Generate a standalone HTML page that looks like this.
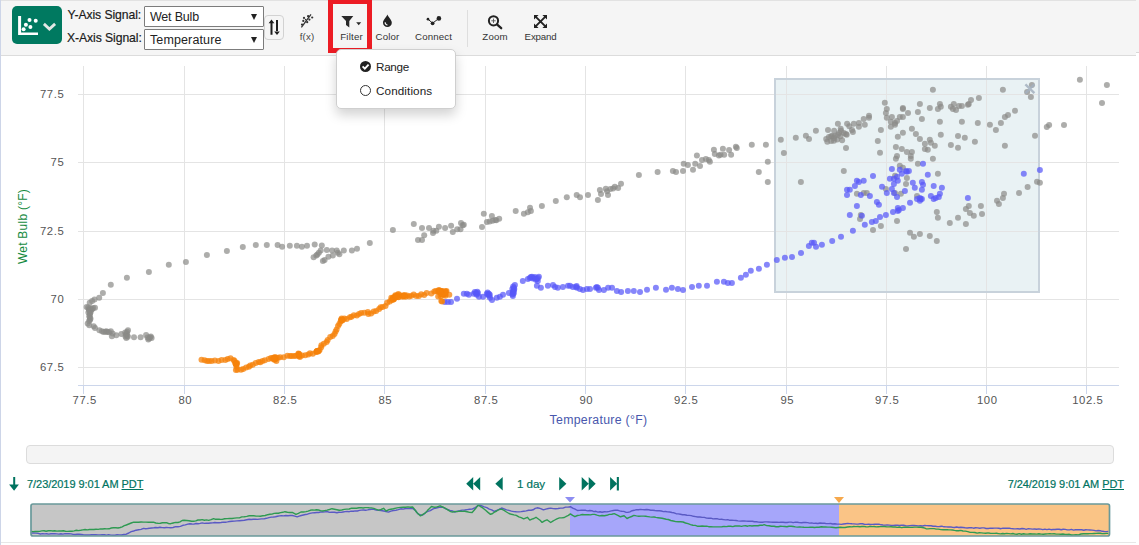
<!DOCTYPE html>
<html>
<head>
<meta charset="utf-8">
<title>Scatter Plot</title>
<style>
html,body{margin:0;padding:0;}
body{width:1139px;height:545px;overflow:hidden;background:#fff;font-family:"Liberation Sans",sans-serif;position:relative;color:#333;}
.abs{position:absolute;}
#panel{position:absolute;left:0;top:0;width:1136px;height:543px;border-bottom:1px solid #e7e7e7;box-sizing:border-box;}
#lb{position:absolute;left:0;top:0;width:1px;height:545px;background:#cdd5e8;}
#toolbar{position:absolute;left:1px;top:0;width:1135px;height:54px;background:#f5f5f5;border-bottom:1px solid #dcdcdc;border-top:1px solid #e2e2e2;box-sizing:content-box;}
#tbr{position:absolute;left:1136px;top:0;width:3px;height:52px;background:#f5f5f5;border-bottom:1px solid #d8d8d8;}
#viewbtn{position:absolute;left:12px;top:6px;width:50px;height:38px;background:#007960;border-radius:5px;}
.lbl{position:absolute;font-size:12.2px;letter-spacing:-0.08px;color:#1a1a1a;white-space:nowrap;line-height:14px;-webkit-text-stroke:0.18px #1a1a1a;}
.sel{position:absolute;left:144px;width:120px;height:21px;box-sizing:border-box;border:1px solid #7c7c7c;background:#fff;border-radius:1px;}
.sel span{position:absolute;left:5px;top:3px;font-size:12.5px;line-height:14px;color:#222;white-space:nowrap;}
.sel i{position:absolute;right:6px;top:6.5px;width:0;height:0;border-left:3px solid transparent;border-right:3px solid transparent;border-top:6px solid #222;}
#swap{position:absolute;left:264px;top:15px;width:20px;height:25px;box-sizing:border-box;border:1px solid #d2d2d2;border-radius:4px;}
.tool{position:absolute;top:31px;font-size:9.7px;letter-spacing:0.15px;line-height:12px;color:#333;white-space:nowrap;text-align:center;transform:translateX(-50%);}
#redbox{position:absolute;left:328px;top:-1px;width:44px;height:54px;box-sizing:border-box;border:5px solid #ec1c24;}
#sep{position:absolute;left:467px;top:10px;width:1px;height:37px;background:#dedede;}
#menu{position:absolute;left:336px;top:49px;width:120px;height:60px;box-sizing:border-box;background:#fff;border:1px solid #cfcfcf;border-radius:5px;box-shadow:0 6px 12px rgba(0,0,0,0.175);}
#menu .it{position:absolute;left:39px;font-size:11.7px;line-height:14px;color:#222;white-space:nowrap;}
.ax{font-size:11.3px;letter-spacing:0.6px;fill:#555;font-family:"Liberation Sans",sans-serif;}
#scroll{position:absolute;left:26px;top:445px;width:1088px;height:19px;box-sizing:border-box;border:1px solid #dcdcdc;border-radius:4px;background:#f4f4f4;}
.date{position:absolute;top:477px;font-size:11px;letter-spacing:-0.05px;line-height:14px;color:#00735f;white-space:nowrap;-webkit-text-stroke:0.2px #00735f;}
.date u{text-decoration:underline;}
</style>
</head>
<body>
<div id="panel"></div><div id="lb"></div>
<div id="toolbar"></div><div id="tbr"></div>

<!-- view button -->
<div id="viewbtn">
<svg class="abs" style="left:0;top:0" width="50" height="38" viewBox="0 0 50 38">
<path d="M6.1 9.9 H9.1 V26.5 H26 V28.9 H6.1 Z" fill="#fff"/>
<circle cx="17.5" cy="14.1" r="2" fill="#fff"/><circle cx="23.7" cy="14.8" r="2" fill="#fff"/>
<circle cx="13.9" cy="18.8" r="2" fill="#fff"/><circle cx="18.4" cy="21.1" r="2" fill="#fff"/>
<circle cx="11.6" cy="23.3" r="2" fill="#fff"/>
<path d="M31.9 17.9 L37.4 23 L43.1 17.9" fill="none" stroke="#e2e8e5" stroke-width="2.8" stroke-linejoin="miter"/>
</svg>
</div>

<div class="lbl" style="left:67.5px;top:8px;">Y-Axis Signal:</div>
<div class="lbl" style="left:67px;top:31px;">X-Axis Signal:</div>
<div class="sel" style="top:6px;"><span style="letter-spacing:-0.2px">Wet Bulb</span><i></i></div>
<div class="sel" style="top:29px;height:21px;"><span style="letter-spacing:0.12px">Temperature</span><i></i></div>
<div id="swap">
<svg class="abs" style="left:0;top:0" width="18" height="23" viewBox="0 0 18 23">
<path d="M3.6 7.2 L6.5 3.6 L9.4 7.2 Z M5.5 6.5 H7.5 V18.8 H5.5 Z" fill="#1c1c1c"/>
<path d="M9.2 15.6 L12 19 L14.8 15.6 Z M11 4.1 H13 V16 H11 Z" fill="#1c1c1c"/>
</svg>
</div>

<!-- tools -->
<div class="tool" style="left:307px;color:#444;">f(x)</div>
<div class="tool" style="left:351.6px;letter-spacing:0.2px;">Filter</div>
<div class="tool" style="left:387.5px;">Color</div>
<div class="tool" style="left:433.6px;">Connect</div>
<div class="tool" style="left:495px;">Zoom</div>
<div class="tool" style="left:540.6px;letter-spacing:-0.15px;">Expand</div>
<div id="sep"></div>

<svg class="abs" style="left:295px;top:10px" width="270" height="24" viewBox="295 10 270 24">
<!-- f(x) icon -->
<g fill="#333" stroke="none">
<path d="M301.4 27.3 L311 14.4" stroke="#333" stroke-width="1.3" fill="none"/>
<circle cx="304" cy="17.9" r="1.1"/><circle cx="308.1" cy="16.2" r="1.1"/><circle cx="312.2" cy="17.5" r="1.1"/><circle cx="303.3" cy="20.9" r="1.1"/><circle cx="307.2" cy="22.2" r="1.1"/><circle cx="309.4" cy="19.6" r="1.1"/><circle cx="302" cy="24.6" r="1.1"/><circle cx="305.6" cy="19.6" r="0.8"/>
</g>
<!-- filter -->
<path d="M341.3 16.1 H353.3 L349.3 21 V27.4 L346 25 V21 Z" fill="#2a2a2a"/>
<path d="M356.2 22.3 H361.2 L358.7 25.2 Z" fill="#2a2a2a"/>
<!-- color drop -->
<path d="M387.4 14.6 C386 17.8 383 20 383 22.7 A4.4 4.3 0 0 0 391.8 22.7 C391.8 20 388.8 17.8 387.4 14.6 Z" fill="#222"/>
<path d="M385.2 22.2 A2.5 2.5 0 0 0 387.5 25" fill="none" stroke="#f5f5f5" stroke-width="1.2"/>
<!-- connect -->
<path d="M428 19.2 L432.6 23.2 L438.9 18.4" fill="none" stroke="#222" stroke-width="1"/>
<circle cx="428" cy="19.2" r="1.35" fill="#222"/><circle cx="432.6" cy="23.3" r="1.9" fill="#222"/><circle cx="438.9" cy="18.4" r="2.3" fill="#222"/>
<!-- zoom -->
<circle cx="493.5" cy="20.8" r="4.6" fill="none" stroke="#222" stroke-width="2"/>
<path d="M497.2 24.6 L501.2 28.2" stroke="#222" stroke-width="2.3" stroke-linecap="round"/>
<path d="M491.3 20.8 H495.7 M493.5 18.6 V23" stroke="#555" stroke-width="0.9"/>
<!-- expand -->
<path d="M534 15 H538.6 L534 19.6 Z M547 15 V19.6 L542.4 15 Z M534 28 V23.4 L538.6 28 Z M547 28 H542.4 L547 23.4 Z" fill="#222"/>
<path d="M535.6 16.6 L545.4 26.4 M545.4 16.6 L535.6 26.4" stroke="#222" stroke-width="1.9" fill="none"/>
</svg>

<div id="redbox"></div>

<!-- chart -->
<svg id="chart" class="abs" style="left:0;top:56px" width="1139" height="380" viewBox="0 56 1139 380">
<rect x="775" y="79" width="264" height="213" fill="#e9f2f4"/>
<g stroke="#e4e4e4" stroke-width="1" shape-rendering="crispEdges">
<path d="M83.5 66 V385 M184.5 66 V385 M284.5 66 V385 M384.5 66 V385 M485.5 66 V385 M585.5 66 V385 M685.5 66 V385 M786.5 66 V385 M886.5 66 V385 M986.5 66 V385 M1086.5 66 V385"/>
<path d="M78 94.5 H1119 M78 162.5 H1119 M78 231.5 H1119 M78 299.5 H1119 M78 367.5 H1119"/>
</g>
<g stroke="#ccd6eb" stroke-width="1" shape-rendering="crispEdges">
<path d="M78 385.5 H1119"/>
<path d="M83.5 385 V394 M184.5 385 V394 M284.5 385 V394 M384.5 385 V394 M485.5 385 V394 M585.5 385 V394 M685.5 385 V394 M786.5 385 V394 M886.5 385 V394 M986.5 385 V394 M1086.5 385 V394"/>
</g>
<g class="ax" text-anchor="end">
<text x="64.3" y="98">77.5</text><text x="64.3" y="166">75</text><text x="64.3" y="235">72.5</text><text x="64.3" y="303">70</text><text x="64.3" y="371">67.5</text>
</g>
<g class="ax" text-anchor="middle">
<text x="84.8" y="404">77.5</text><text x="185.3" y="404">80</text><text x="285.3" y="404">82.5</text><text x="385.3" y="404">85</text><text x="486.3" y="404">87.5</text><text x="586.3" y="404">90</text><text x="686.3" y="404">92.5</text><text x="787.3" y="404">95</text><text x="887.3" y="404">97.5</text><text x="987.3" y="404">100</text><text x="1087.8" y="404">102.5</text>
</g>
<text x="598.5" y="424" text-anchor="middle" style="font-size:12.3px;letter-spacing:0.3px;fill:#4857ad;font-family:'Liberation Sans',sans-serif;">Temperature (°F)</text>
<text transform="translate(27,226.5) rotate(-90)" text-anchor="middle" style="font-size:12px;letter-spacing:0.25px;fill:#148a3e;font-family:'Liberation Sans',sans-serif;">Wet Bulb (°F)</text>
<!-- selection -->
<rect x="775" y="79" width="264" height="213" fill="none" stroke="#c8d2db" stroke-width="2"/>
<g id="pts-gray" fill="#8a8a87" fill-opacity="0.7"><circle cx="277.6" cy="245.0" r="3"/><circle cx="266.8" cy="245.0" r="3"/><circle cx="255.8" cy="245.0" r="3"/><circle cx="242.8" cy="247.0" r="3"/><circle cx="226.9" cy="250.9" r="3"/><circle cx="206.9" cy="254.9" r="3"/><circle cx="185.9" cy="261.9" r="3"/><circle cx="168.8" cy="264.8" r="3"/><circle cx="148.9" cy="271.9" r="3"/><circle cx="126.9" cy="277.8" r="3"/><circle cx="110.8" cy="284.8" r="3"/><circle cx="102.9" cy="293.0" r="3"/><circle cx="99.2" cy="297.8" r="3"/><circle cx="94.5" cy="299.4" r="3"/><circle cx="92.1" cy="300.9" r="3"/><circle cx="89.7" cy="302.7" r="3"/><circle cx="86.6" cy="307.1" r="3"/><circle cx="95.0" cy="307.8" r="3"/><circle cx="92.1" cy="308.9" r="3"/><circle cx="88.8" cy="309.3" r="3"/><circle cx="90.6" cy="311.9" r="3"/><circle cx="89.9" cy="314.8" r="3"/><circle cx="89.9" cy="317.7" r="3"/><circle cx="89.9" cy="319.9" r="3"/><circle cx="87.7" cy="323.6" r="3"/><circle cx="89.3" cy="325.2" r="3"/><circle cx="93.7" cy="326.3" r="3"/><circle cx="95.0" cy="328.0" r="3"/><circle cx="99.4" cy="330.2" r="3"/><circle cx="102.0" cy="331.3" r="3"/><circle cx="105.3" cy="331.8" r="3"/><circle cx="107.5" cy="332.0" r="3"/><circle cx="110.8" cy="331.3" r="3"/><circle cx="112.6" cy="333.5" r="3"/><circle cx="111.9" cy="336.2" r="3"/><circle cx="116.3" cy="335.3" r="3"/><circle cx="121.4" cy="334.0" r="3"/><circle cx="125.2" cy="332.4" r="3"/><circle cx="128.0" cy="330.2" r="3"/><circle cx="126.7" cy="333.5" r="3"/><circle cx="127.4" cy="335.7" r="3"/><circle cx="126.3" cy="337.9" r="3"/><circle cx="134.0" cy="337.3" r="3"/><circle cx="140.6" cy="337.3" r="3"/><circle cx="146.1" cy="335.1" r="3"/><circle cx="150.0" cy="337.3" r="3"/><circle cx="151.6" cy="337.9" r="3"/><circle cx="148.3" cy="339.5" r="3"/><circle cx="282.1" cy="246.8" r="3"/><circle cx="289.8" cy="245.7" r="3"/><circle cx="296.9" cy="245.7" r="3"/><circle cx="301.9" cy="246.8" r="3"/><circle cx="307.0" cy="245.7" r="3"/><circle cx="314.7" cy="244.6" r="3"/><circle cx="321.8" cy="245.5" r="3"/><circle cx="326.8" cy="249.9" r="3"/><circle cx="332.1" cy="250.6" r="3"/><circle cx="336.7" cy="250.6" r="3"/><circle cx="343.8" cy="250.6" r="3"/><circle cx="351.9" cy="250.6" r="3"/><circle cx="357.0" cy="248.8" r="3"/><circle cx="369.8" cy="242.9" r="3"/><circle cx="320.7" cy="250.6" r="3"/><circle cx="318.9" cy="252.8" r="3"/><circle cx="317.4" cy="254.5" r="3"/><circle cx="316.3" cy="255.6" r="3"/><circle cx="313.6" cy="257.2" r="3"/><circle cx="322.9" cy="260.9" r="3"/><circle cx="324.6" cy="260.0" r="3"/><circle cx="328.4" cy="256.7" r="3"/><circle cx="332.8" cy="255.6" r="3"/><circle cx="337.8" cy="252.8" r="3"/><circle cx="339.4" cy="254.3" r="3"/><circle cx="392.9" cy="230.1" r="3"/><circle cx="413.8" cy="224.1" r="3"/><circle cx="422.0" cy="227.9" r="3"/><circle cx="429.0" cy="227.9" r="3"/><circle cx="433.4" cy="230.7" r="3"/><circle cx="433.0" cy="233.0" r="3"/><circle cx="436.3" cy="230.7" r="3"/><circle cx="438.9" cy="226.8" r="3"/><circle cx="445.1" cy="227.9" r="3"/><circle cx="451.1" cy="225.7" r="3"/><circle cx="452.8" cy="231.9" r="3"/><circle cx="457.2" cy="229.2" r="3"/><circle cx="460.5" cy="229.2" r="3"/><circle cx="461.0" cy="223.0" r="3"/><circle cx="463.8" cy="224.8" r="3"/><circle cx="462.7" cy="225.2" r="3"/><circle cx="424.2" cy="235.2" r="3"/><circle cx="418.0" cy="240.0" r="3"/><circle cx="422.0" cy="240.0" r="3"/><circle cx="482.0" cy="226.9" r="3"/><circle cx="483.8" cy="213.7" r="3"/><circle cx="491.9" cy="215.9" r="3"/><circle cx="486.9" cy="221.9" r="3"/><circle cx="489.7" cy="221.4" r="3"/><circle cx="492.6" cy="220.7" r="3"/><circle cx="495.2" cy="219.9" r="3"/><circle cx="496.3" cy="220.3" r="3"/><circle cx="499.2" cy="218.8" r="3"/><circle cx="515.7" cy="211.1" r="3"/><circle cx="523.9" cy="213.7" r="3"/><circle cx="527.8" cy="212.2" r="3"/><circle cx="530.0" cy="207.8" r="3"/><circle cx="530.9" cy="211.1" r="3"/><circle cx="541.9" cy="206.0" r="3"/><circle cx="555.8" cy="200.9" r="3"/><circle cx="566.8" cy="197.2" r="3"/><circle cx="576.7" cy="195.0" r="3"/><circle cx="580.0" cy="197.2" r="3"/><circle cx="588.0" cy="195.0" r="3"/><circle cx="597.9" cy="200.0" r="3"/><circle cx="599.9" cy="189.9" r="3"/><circle cx="601.0" cy="193.9" r="3"/><circle cx="605.8" cy="188.8" r="3"/><circle cx="607.1" cy="191.2" r="3"/><circle cx="608.0" cy="195.0" r="3"/><circle cx="610.4" cy="189.0" r="3"/><circle cx="613.1" cy="188.4" r="3"/><circle cx="614.8" cy="186.8" r="3"/><circle cx="618.1" cy="188.0" r="3"/><circle cx="621.0" cy="183.7" r="3"/><circle cx="638.9" cy="174.9" r="3"/><circle cx="657.6" cy="171.9" r="3"/><circle cx="672.9" cy="171.1" r="3"/><circle cx="676.0" cy="171.9" r="3"/><circle cx="683.0" cy="171.1" r="3"/><circle cx="683.7" cy="163.8" r="3"/><circle cx="687.9" cy="164.9" r="3"/><circle cx="693.0" cy="169.7" r="3"/><circle cx="695.2" cy="163.8" r="3"/><circle cx="696.9" cy="155.6" r="3"/><circle cx="700.0" cy="166.0" r="3"/><circle cx="702.0" cy="160.0" r="3"/><circle cx="705.9" cy="158.9" r="3"/><circle cx="708.8" cy="160.0" r="3"/><circle cx="709.9" cy="161.8" r="3"/><circle cx="713.9" cy="149.7" r="3"/><circle cx="714.8" cy="154.1" r="3"/><circle cx="718.9" cy="155.6" r="3"/><circle cx="720.5" cy="154.8" r="3"/><circle cx="722.9" cy="148.8" r="3"/><circle cx="724.2" cy="154.8" r="3"/><circle cx="729.1" cy="149.9" r="3"/><circle cx="731.1" cy="154.8" r="3"/><circle cx="735.9" cy="146.8" r="3"/><circle cx="736.8" cy="147.9" r="3"/><circle cx="751.8" cy="144.8" r="3"/><circle cx="765.9" cy="144.8" r="3"/><circle cx="767.8" cy="161.8" r="3"/><circle cx="758.8" cy="171.9" r="3"/><circle cx="767.8" cy="181.9" r="3"/><circle cx="780.8" cy="139.8" r="3"/><circle cx="783.9" cy="153.0" r="3"/><circle cx="795.8" cy="137.8" r="3"/><circle cx="805.9" cy="135.8" r="3"/><circle cx="809.0" cy="138.9" r="3"/><circle cx="815.9" cy="130.7" r="3"/><circle cx="800.9" cy="181.9" r="3"/><circle cx="843.8" cy="171.1" r="3"/><circle cx="846.0" cy="147.9" r="3"/><circle cx="828.0" cy="129.9" r="3"/><circle cx="834.1" cy="130.7" r="3"/><circle cx="837.9" cy="123.7" r="3"/><circle cx="840.7" cy="128.8" r="3"/><circle cx="847.1" cy="123.7" r="3"/><circle cx="826.2" cy="138.9" r="3"/><circle cx="827.3" cy="141.8" r="3"/><circle cx="828.9" cy="136.9" r="3"/><circle cx="831.1" cy="136.3" r="3"/><circle cx="833.9" cy="140.7" r="3"/><circle cx="835.0" cy="135.8" r="3"/><circle cx="837.2" cy="139.6" r="3"/><circle cx="839.0" cy="133.0" r="3"/><circle cx="840.5" cy="136.3" r="3"/><circle cx="842.1" cy="140.2" r="3"/><circle cx="843.8" cy="133.0" r="3"/><circle cx="846.7" cy="134.7" r="3"/><circle cx="849.3" cy="126.3" r="3"/><circle cx="853.8" cy="123.7" r="3"/><circle cx="858.9" cy="122.9" r="3"/><circle cx="858.9" cy="126.8" r="3"/><circle cx="863.7" cy="118.9" r="3"/><circle cx="864.8" cy="124.8" r="3"/><circle cx="869.0" cy="115.8" r="3"/><circle cx="869.0" cy="117.8" r="3"/><circle cx="852.0" cy="129.9" r="3"/><circle cx="852.9" cy="131.9" r="3"/><circle cx="845.9" cy="133.9" r="3"/><circle cx="841.0" cy="130.8" r="3"/><circle cx="837.9" cy="134.8" r="3"/><circle cx="832.2" cy="135.9" r="3"/><circle cx="834.0" cy="138.3" r="3"/><circle cx="831.1" cy="140.9" r="3"/><circle cx="880.9" cy="129.9" r="3"/><circle cx="877.8" cy="140.9" r="3"/><circle cx="880.0" cy="152.8" r="3"/><circle cx="884.8" cy="102.8" r="3"/><circle cx="886.8" cy="109.0" r="3"/><circle cx="885.9" cy="113.0" r="3"/><circle cx="886.8" cy="117.8" r="3"/><circle cx="891.9" cy="116.9" r="3"/><circle cx="890.8" cy="121.8" r="3"/><circle cx="895.0" cy="122.9" r="3"/><circle cx="897.0" cy="120.9" r="3"/><circle cx="890.8" cy="126.8" r="3"/><circle cx="895.0" cy="124.8" r="3"/><circle cx="899.8" cy="116.9" r="3"/><circle cx="902.9" cy="116.9" r="3"/><circle cx="902.9" cy="107.9" r="3"/><circle cx="902.9" cy="109.0" r="3"/><circle cx="908.0" cy="113.0" r="3"/><circle cx="917.9" cy="111.9" r="3"/><circle cx="919.9" cy="103.9" r="3"/><circle cx="921.9" cy="118.9" r="3"/><circle cx="929.8" cy="107.9" r="3"/><circle cx="932.9" cy="89.8" r="3"/><circle cx="937.9" cy="109.0" r="3"/><circle cx="939.9" cy="103.9" r="3"/><circle cx="940.8" cy="106.8" r="3"/><circle cx="939.9" cy="121.8" r="3"/><circle cx="950.9" cy="106.8" r="3"/><circle cx="953.8" cy="103.9" r="3"/><circle cx="952.9" cy="109.0" r="3"/><circle cx="956.0" cy="109.9" r="3"/><circle cx="958.9" cy="105.9" r="3"/><circle cx="961.9" cy="105.9" r="3"/><circle cx="967.9" cy="104.8" r="3"/><circle cx="968.8" cy="103.9" r="3"/><circle cx="971.0" cy="100.0" r="3"/><circle cx="978.9" cy="98.0" r="3"/><circle cx="961.9" cy="121.8" r="3"/><circle cx="977.8" cy="122.9" r="3"/><circle cx="989.9" cy="124.8" r="3"/><circle cx="995.9" cy="129.9" r="3"/><circle cx="1000.9" cy="122.9" r="3"/><circle cx="1004.9" cy="116.9" r="3"/><circle cx="1008.0" cy="114.9" r="3"/><circle cx="1015.0" cy="110.7" r="3"/><circle cx="1002.9" cy="89.8" r="3"/><circle cx="1027.1" cy="92.0" r="3"/><circle cx="911.9" cy="128.8" r="3"/><circle cx="902.9" cy="132.8" r="3"/><circle cx="897.8" cy="136.7" r="3"/><circle cx="915.9" cy="133.9" r="3"/><circle cx="919.9" cy="138.9" r="3"/><circle cx="924.9" cy="143.8" r="3"/><circle cx="929.8" cy="139.8" r="3"/><circle cx="930.9" cy="142.7" r="3"/><circle cx="934.8" cy="145.8" r="3"/><circle cx="924.9" cy="148.9" r="3"/><circle cx="927.8" cy="149.7" r="3"/><circle cx="940.8" cy="134.8" r="3"/><circle cx="950.9" cy="144.9" r="3"/><circle cx="958.0" cy="135.9" r="3"/><circle cx="958.0" cy="147.8" r="3"/><circle cx="964.8" cy="137.8" r="3"/><circle cx="974.9" cy="141.8" r="3"/><circle cx="1004.9" cy="145.8" r="3"/><circle cx="895.9" cy="146.9" r="3"/><circle cx="901.8" cy="148.9" r="3"/><circle cx="906.9" cy="151.9" r="3"/><circle cx="911.9" cy="151.9" r="3"/><circle cx="910.8" cy="155.9" r="3"/><circle cx="910.8" cy="158.8" r="3"/><circle cx="897.0" cy="155.9" r="3"/><circle cx="895.9" cy="158.8" r="3"/><circle cx="932.9" cy="158.8" r="3"/><circle cx="917.9" cy="163.8" r="3"/><circle cx="899.8" cy="165.8" r="3"/><circle cx="902.9" cy="167.8" r="3"/><circle cx="937.9" cy="173.7" r="3"/><circle cx="906.0" cy="183.9" r="3"/><circle cx="895.0" cy="175.7" r="3"/><circle cx="906.9" cy="177.9" r="3"/><circle cx="885.9" cy="188.9" r="3"/><circle cx="856.9" cy="193.8" r="3"/><circle cx="863.7" cy="192.9" r="3"/><circle cx="866.8" cy="192.9" r="3"/><circle cx="895.0" cy="192.9" r="3"/><circle cx="900.9" cy="193.8" r="3"/><circle cx="917.0" cy="196.0" r="3"/><circle cx="860.8" cy="214.9" r="3"/><circle cx="860.0" cy="218.9" r="3"/><circle cx="873.0" cy="229.9" r="3"/><circle cx="880.9" cy="225.9" r="3"/><circle cx="897.0" cy="220.9" r="3"/><circle cx="910.0" cy="232.8" r="3"/><circle cx="913.9" cy="236.7" r="3"/><circle cx="919.9" cy="233.9" r="3"/><circle cx="929.8" cy="235.9" r="3"/><circle cx="936.8" cy="240.9" r="3"/><circle cx="906.0" cy="248.9" r="3"/><circle cx="936.8" cy="211.9" r="3"/><circle cx="937.9" cy="217.8" r="3"/><circle cx="949.8" cy="222.9" r="3"/><circle cx="958.0" cy="217.8" r="3"/><circle cx="965.9" cy="224.0" r="3"/><circle cx="965.9" cy="209.0" r="3"/><circle cx="968.8" cy="205.9" r="3"/><circle cx="969.9" cy="213.0" r="3"/><circle cx="973.8" cy="215.8" r="3"/><circle cx="980.9" cy="205.9" r="3"/><circle cx="982.0" cy="214.1" r="3"/><circle cx="997.0" cy="200.8" r="3"/><circle cx="998.9" cy="203.9" r="3"/><circle cx="1002.9" cy="198.0" r="3"/><circle cx="1004.0" cy="193.8" r="3"/><circle cx="1019.0" cy="192.9" r="3"/><circle cx="1027.6" cy="187.0" r="3"/><circle cx="1079.9" cy="79.8" r="3"/><circle cx="1106.9" cy="84.9" r="3"/><circle cx="1102.0" cy="102.9" r="3"/><circle cx="1064.0" cy="125.0" r="3"/><circle cx="1049.1" cy="125.0" r="3"/><circle cx="1046.8" cy="127.0" r="3"/><circle cx="1035.0" cy="135.8" r="3"/><circle cx="1030.9" cy="97.0" r="3"/><circle cx="1031.9" cy="84.9" r="3"/><circle cx="1039.9" cy="182.8" r="3"/><circle cx="1037.0" cy="181.8" r="3"/><circle cx="88.2" cy="307.5" r="3"/><circle cx="90.3" cy="308.2" r="3"/><circle cx="91.5" cy="309.8" r="3"/><circle cx="89.3" cy="310.8" r="3"/><circle cx="90.1" cy="313.2" r="3"/><circle cx="89.2" cy="316.3" r="3"/><circle cx="90.5" cy="318.8" r="3"/><circle cx="89.1" cy="321.0" r="3"/><circle cx="88.4" cy="312.5" r="3"/><circle cx="93.2" cy="308.0" r="3"/><circle cx="127.1" cy="331.8" r="3"/><circle cx="126.0" cy="335.0" r="3"/><circle cx="127.8" cy="336.8" r="3"/><circle cx="125.5" cy="336.6" r="3"/><circle cx="149.2" cy="338.4" r="3"/><circle cx="150.8" cy="336.4" r="3"/><circle cx="147.6" cy="337.6" r="3"/><circle cx="106.4" cy="331.2" r="3"/><circle cx="109.0" cy="332.3" r="3"/><circle cx="103.6" cy="331.9" r="3"/></g>
<g id="pts-blue" fill="#5858f8" fill-opacity="0.72"><circle cx="923.0" cy="163.8" r="3"/><circle cx="891.9" cy="168.9" r="3"/><circle cx="899.8" cy="169.8" r="3"/><circle cx="906.0" cy="170.9" r="3"/><circle cx="908.9" cy="170.9" r="3"/><circle cx="906.9" cy="171.8" r="3"/><circle cx="901.8" cy="173.7" r="3"/><circle cx="927.8" cy="174.8" r="3"/><circle cx="873.0" cy="175.9" r="3"/><circle cx="889.9" cy="178.8" r="3"/><circle cx="893.9" cy="178.8" r="3"/><circle cx="897.0" cy="176.8" r="3"/><circle cx="897.8" cy="180.8" r="3"/><circle cx="856.9" cy="180.8" r="3"/><circle cx="858.9" cy="181.9" r="3"/><circle cx="863.7" cy="180.8" r="3"/><circle cx="854.9" cy="185.9" r="3"/><circle cx="893.9" cy="183.9" r="3"/><circle cx="882.0" cy="186.7" r="3"/><circle cx="912.8" cy="182.8" r="3"/><circle cx="921.9" cy="181.9" r="3"/><circle cx="923.0" cy="184.8" r="3"/><circle cx="914.8" cy="187.8" r="3"/><circle cx="933.7" cy="185.9" r="3"/><circle cx="941.9" cy="187.8" r="3"/><circle cx="1023.8" cy="173.7" r="3"/><circle cx="1039.9" cy="169.9" r="3"/><circle cx="847.0" cy="189.8" r="3"/><circle cx="849.8" cy="189.8" r="3"/><circle cx="847.0" cy="194.9" r="3"/><circle cx="860.8" cy="194.9" r="3"/><circle cx="869.9" cy="196.0" r="3"/><circle cx="856.9" cy="205.9" r="3"/><circle cx="876.9" cy="201.9" r="3"/><circle cx="878.9" cy="204.8" r="3"/><circle cx="849.8" cy="214.9" r="3"/><circle cx="861.9" cy="215.8" r="3"/><circle cx="864.8" cy="224.8" r="3"/><circle cx="871.9" cy="222.0" r="3"/><circle cx="875.8" cy="220.9" r="3"/><circle cx="880.0" cy="216.9" r="3"/><circle cx="885.9" cy="214.9" r="3"/><circle cx="893.0" cy="211.9" r="3"/><circle cx="897.8" cy="207.9" r="3"/><circle cx="898.9" cy="209.9" r="3"/><circle cx="897.8" cy="211.0" r="3"/><circle cx="902.9" cy="207.9" r="3"/><circle cx="910.0" cy="202.8" r="3"/><circle cx="852.9" cy="230.8" r="3"/><circle cx="841.0" cy="236.7" r="3"/><circle cx="832.2" cy="240.9" r="3"/><circle cx="886.8" cy="192.9" r="3"/><circle cx="891.9" cy="188.9" r="3"/><circle cx="893.9" cy="192.9" r="3"/><circle cx="897.0" cy="196.9" r="3"/><circle cx="904.9" cy="190.9" r="3"/><circle cx="921.9" cy="189.8" r="3"/><circle cx="939.9" cy="193.8" r="3"/><circle cx="938.8" cy="196.9" r="3"/><circle cx="935.7" cy="198.0" r="3"/><circle cx="933.7" cy="198.9" r="3"/><circle cx="930.9" cy="196.0" r="3"/><circle cx="919.9" cy="198.0" r="3"/><circle cx="920.7" cy="198.9" r="3"/><circle cx="921.9" cy="198.9" r="3"/><circle cx="919.9" cy="200.8" r="3"/><circle cx="917.0" cy="198.9" r="3"/><circle cx="967.9" cy="198.0" r="3"/><circle cx="640.0" cy="291.9" r="3"/><circle cx="647.0" cy="289.7" r="3"/><circle cx="655.9" cy="287.8" r="3"/><circle cx="666.0" cy="289.7" r="3"/><circle cx="671.9" cy="287.8" r="3"/><circle cx="677.9" cy="288.9" r="3"/><circle cx="683.0" cy="290.0" r="3"/><circle cx="692.0" cy="286.9" r="3"/><circle cx="698.8" cy="285.8" r="3"/><circle cx="707.0" cy="285.8" r="3"/><circle cx="716.9" cy="281.8" r="3"/><circle cx="723.9" cy="281.8" r="3"/><circle cx="727.9" cy="282.9" r="3"/><circle cx="731.9" cy="282.9" r="3"/><circle cx="740.9" cy="277.8" r="3"/><circle cx="745.9" cy="274.8" r="3"/><circle cx="750.8" cy="270.8" r="3"/><circle cx="758.9" cy="268.8" r="3"/><circle cx="766.9" cy="264.8" r="3"/><circle cx="776.8" cy="260.0" r="3"/><circle cx="784.9" cy="257.8" r="3"/><circle cx="792.0" cy="256.9" r="3"/><circle cx="801.0" cy="253.0" r="3"/><circle cx="808.9" cy="245.9" r="3"/><circle cx="811.8" cy="242.8" r="3"/><circle cx="814.0" cy="242.8" r="3"/><circle cx="816.0" cy="246.8" r="3"/><circle cx="821.9" cy="244.8" r="3"/><circle cx="444.8" cy="301.9" r="3"/><circle cx="447.9" cy="301.9" r="3"/><circle cx="451.0" cy="301.9" r="3"/><circle cx="457.0" cy="298.8" r="3"/><circle cx="463.8" cy="293.7" r="3"/><circle cx="466.9" cy="293.7" r="3"/><circle cx="468.9" cy="294.8" r="3"/><circle cx="473.7" cy="293.7" r="3"/><circle cx="475.9" cy="292.9" r="3"/><circle cx="477.9" cy="292.9" r="3"/><circle cx="476.8" cy="294.8" r="3"/><circle cx="479.0" cy="296.8" r="3"/><circle cx="483.0" cy="296.8" r="3"/><circle cx="486.9" cy="293.7" r="3"/><circle cx="488.9" cy="293.7" r="3"/><circle cx="488.9" cy="295.7" r="3"/><circle cx="490.0" cy="297.7" r="3"/><circle cx="492.0" cy="299.9" r="3"/><circle cx="496.8" cy="297.7" r="3"/><circle cx="499.9" cy="296.8" r="3"/><circle cx="503.0" cy="294.8" r="3"/><circle cx="508.9" cy="292.9" r="3"/><circle cx="512.9" cy="295.9" r="3"/><circle cx="512.9" cy="293.7" r="3"/><circle cx="512.9" cy="292.0" r="3"/><circle cx="513.8" cy="290.0" r="3"/><circle cx="513.8" cy="287.8" r="3"/><circle cx="514.9" cy="284.9" r="3"/><circle cx="522.8" cy="281.0" r="3"/><circle cx="527.9" cy="279.0" r="3"/><circle cx="529.9" cy="277.9" r="3"/><circle cx="531.9" cy="276.8" r="3"/><circle cx="533.8" cy="277.9" r="3"/><circle cx="536.9" cy="279.0" r="3"/><circle cx="538.9" cy="276.8" r="3"/><circle cx="537.8" cy="281.0" r="3"/><circle cx="536.9" cy="285.8" r="3"/><circle cx="540.9" cy="287.8" r="3"/><circle cx="547.9" cy="285.8" r="3"/><circle cx="553.0" cy="284.9" r="3"/><circle cx="555.0" cy="286.9" r="3"/><circle cx="557.8" cy="287.8" r="3"/><circle cx="562.9" cy="286.9" r="3"/><circle cx="568.0" cy="285.8" r="3"/><circle cx="570.0" cy="285.8" r="3"/><circle cx="572.8" cy="286.9" r="3"/><circle cx="575.9" cy="286.9" r="3"/><circle cx="577.0" cy="287.8" r="3"/><circle cx="579.9" cy="288.9" r="3"/><circle cx="583.0" cy="290.0" r="3"/><circle cx="586.9" cy="288.9" r="3"/><circle cx="590.0" cy="288.9" r="3"/><circle cx="595.9" cy="287.8" r="3"/><circle cx="597.9" cy="287.8" r="3"/><circle cx="599.0" cy="290.0" r="3"/><circle cx="603.9" cy="290.0" r="3"/><circle cx="608.1" cy="287.8" r="3"/><circle cx="612.0" cy="287.8" r="3"/><circle cx="616.9" cy="290.9" r="3"/><circle cx="621.1" cy="292.0" r="3"/><circle cx="627.9" cy="290.9" r="3"/><circle cx="633.8" cy="290.9" r="3"/><circle cx="512.3" cy="289.0" r="3"/><circle cx="513.4" cy="291.1" r="3"/><circle cx="512.4" cy="294.6" r="3"/><circle cx="513.9" cy="293.0" r="3"/><circle cx="514.3" cy="288.9" r="3"/><circle cx="513.2" cy="286.5" r="3"/><circle cx="476.6" cy="293.8" r="3"/><circle cx="477.3" cy="291.8" r="3"/><circle cx="474.8" cy="292.0" r="3"/><circle cx="488.0" cy="294.6" r="3"/><circle cx="487.6" cy="292.5" r="3"/><circle cx="489.8" cy="294.7" r="3"/><circle cx="530.9" cy="276.9" r="3"/><circle cx="532.8" cy="278.6" r="3"/><circle cx="534.9" cy="277.0" r="3"/><circle cx="537.9" cy="278.0" r="3"/><circle cx="535.8" cy="279.8" r="3"/><circle cx="576.6" cy="285.9" r="3"/><circle cx="596.8" cy="286.9" r="3"/></g>
<g id="pts-orange" fill="#f5820a" fill-opacity="0.75"><circle cx="201.5" cy="359.7" r="3"/><circle cx="204.6" cy="360.2" r="3"/><circle cx="207.0" cy="361.0" r="3"/><circle cx="209.1" cy="361.1" r="3"/><circle cx="211.6" cy="361.0" r="3"/><circle cx="214.9" cy="360.6" r="3"/><circle cx="218.5" cy="361.1" r="3"/><circle cx="221.6" cy="360.0" r="3"/><circle cx="225.3" cy="360.1" r="3"/><circle cx="227.7" cy="359.1" r="3"/><circle cx="230.5" cy="358.2" r="3"/><circle cx="233.6" cy="360.1" r="3"/><circle cx="234.6" cy="360.9" r="3"/><circle cx="237.1" cy="363.1" r="3"/><circle cx="236.3" cy="364.9" r="3"/><circle cx="236.5" cy="366.8" r="3"/><circle cx="235.9" cy="370.0" r="3"/><circle cx="237.5" cy="369.8" r="3"/><circle cx="241.0" cy="369.8" r="3"/><circle cx="243.2" cy="368.9" r="3"/><circle cx="246.1" cy="367.4" r="3"/><circle cx="248.9" cy="366.8" r="3"/><circle cx="250.2" cy="365.4" r="3"/><circle cx="252.8" cy="364.7" r="3"/><circle cx="255.7" cy="363.0" r="3"/><circle cx="258.7" cy="362.0" r="3"/><circle cx="260.4" cy="362.3" r="3"/><circle cx="262.5" cy="360.9" r="3"/><circle cx="264.9" cy="360.2" r="3"/><circle cx="268.6" cy="359.0" r="3"/><circle cx="271.0" cy="358.0" r="3"/><circle cx="272.9" cy="357.9" r="3"/><circle cx="274.9" cy="357.0" r="3"/><circle cx="276.4" cy="361.1" r="3"/><circle cx="278.0" cy="357.8" r="3"/><circle cx="280.1" cy="357.3" r="3"/><circle cx="283.8" cy="357.2" r="3"/><circle cx="287.4" cy="355.7" r="3"/><circle cx="290.0" cy="355.9" r="3"/><circle cx="291.6" cy="356.1" r="3"/><circle cx="294.1" cy="356.1" r="3"/><circle cx="296.1" cy="355.7" r="3"/><circle cx="298.4" cy="353.4" r="3"/><circle cx="299.9" cy="357.0" r="3"/><circle cx="302.0" cy="355.5" r="3"/><circle cx="305.3" cy="355.3" r="3"/><circle cx="308.3" cy="354.4" r="3"/><circle cx="310.0" cy="353.3" r="3"/><circle cx="312.8" cy="353.7" r="3"/><circle cx="316.3" cy="352.1" r="3"/><circle cx="317.3" cy="350.9" r="3"/><circle cx="319.6" cy="350.0" r="3"/><circle cx="321.2" cy="347.3" r="3"/><circle cx="321.4" cy="345.3" r="3"/><circle cx="323.8" cy="343.7" r="3"/><circle cx="326.6" cy="342.0" r="3"/><circle cx="327.7" cy="340.1" r="3"/><circle cx="330.2" cy="337.0" r="3"/><circle cx="332.7" cy="335.9" r="3"/><circle cx="334.5" cy="334.1" r="3"/><circle cx="335.6" cy="331.6" r="3"/><circle cx="336.6" cy="329.5" r="3"/><circle cx="338.0" cy="326.0" r="3"/><circle cx="339.3" cy="324.0" r="3"/><circle cx="340.6" cy="321.6" r="3"/><circle cx="341.6" cy="318.6" r="3"/><circle cx="344.3" cy="318.6" r="3"/><circle cx="346.7" cy="319.1" r="3"/><circle cx="349.9" cy="317.2" r="3"/><circle cx="351.5" cy="316.8" r="3"/><circle cx="353.9" cy="315.2" r="3"/><circle cx="356.9" cy="315.4" r="3"/><circle cx="359.0" cy="314.1" r="3"/><circle cx="361.1" cy="313.1" r="3"/><circle cx="364.3" cy="312.8" r="3"/><circle cx="367.8" cy="312.1" r="3"/><circle cx="368.4" cy="314.1" r="3"/><circle cx="371.1" cy="313.5" r="3"/><circle cx="373.7" cy="311.4" r="3"/><circle cx="376.1" cy="311.0" r="3"/><circle cx="379.1" cy="309.1" r="3"/><circle cx="380.6" cy="307.2" r="3"/><circle cx="382.7" cy="306.9" r="3"/><circle cx="385.5" cy="305.9" r="3"/><circle cx="387.1" cy="302.7" r="3"/><circle cx="389.8" cy="301.6" r="3"/><circle cx="391.5" cy="299.9" r="3"/><circle cx="393.1" cy="298.5" r="3"/><circle cx="395.5" cy="296.4" r="3"/><circle cx="398.4" cy="294.0" r="3"/><circle cx="400.0" cy="295.2" r="3"/><circle cx="402.6" cy="296.7" r="3"/><circle cx="407.0" cy="295.5" r="3"/><circle cx="409.2" cy="296.5" r="3"/><circle cx="411.4" cy="295.7" r="3"/><circle cx="413.7" cy="294.4" r="3"/><circle cx="416.3" cy="295.9" r="3"/><circle cx="418.9" cy="295.9" r="3"/><circle cx="421.2" cy="294.2" r="3"/><circle cx="424.2" cy="294.9" r="3"/><circle cx="426.6" cy="292.9" r="3"/><circle cx="431.3" cy="293.4" r="3"/><circle cx="434.3" cy="291.5" r="3"/><circle cx="435.8" cy="291.1" r="3"/><circle cx="438.5" cy="290.3" r="3"/><circle cx="441.3" cy="291.8" r="3"/><circle cx="442.5" cy="293.3" r="3"/><circle cx="445.3" cy="291.5" r="3"/><circle cx="446.5" cy="290.9" r="3"/><circle cx="449.3" cy="294.7" r="3"/><circle cx="445.4" cy="295.8" r="3"/><circle cx="443.5" cy="295.1" r="3"/><circle cx="440.5" cy="296.1" r="3"/><circle cx="438.2" cy="296.5" r="3"/><circle cx="441.3" cy="301.0" r="3"/><circle cx="442.1" cy="301.4" r="3"/><circle cx="275.1" cy="359.6" r="3"/><circle cx="274.8" cy="359.4" r="3"/><circle cx="276.2" cy="357.8" r="3"/><circle cx="274.1" cy="358.0" r="3"/><circle cx="274.1" cy="358.7" r="3"/><circle cx="274.1" cy="358.3" r="3"/><circle cx="273.7" cy="359.5" r="3"/><circle cx="274.5" cy="358.4" r="3"/><circle cx="299.3" cy="355.8" r="3"/><circle cx="298.8" cy="355.9" r="3"/><circle cx="299.0" cy="355.1" r="3"/><circle cx="299.1" cy="354.0" r="3"/><circle cx="298.8" cy="354.3" r="3"/><circle cx="316.4" cy="351.7" r="3"/><circle cx="317.0" cy="350.9" r="3"/><circle cx="318.7" cy="351.1" r="3"/><circle cx="317.4" cy="351.0" r="3"/><circle cx="318.2" cy="351.6" r="3"/><circle cx="341.1" cy="320.1" r="3"/><circle cx="341.4" cy="319.6" r="3"/><circle cx="342.7" cy="320.0" r="3"/><circle cx="342.1" cy="320.4" r="3"/><circle cx="394.8" cy="297.8" r="3"/><circle cx="393.5" cy="298.0" r="3"/><circle cx="393.1" cy="298.6" r="3"/><circle cx="392.8" cy="298.1" r="3"/><circle cx="392.9" cy="299.4" r="3"/><circle cx="393.9" cy="299.2" r="3"/><circle cx="394.9" cy="297.3" r="3"/><circle cx="393.3" cy="299.4" r="3"/><circle cx="394.5" cy="296.9" r="3"/><circle cx="391.3" cy="297.8" r="3"/><circle cx="395.3" cy="295.3" r="3"/><circle cx="395.3" cy="296.5" r="3"/><circle cx="398.1" cy="297.1" r="3"/><circle cx="395.6" cy="296.6" r="3"/><circle cx="397.6" cy="295.0" r="3"/><circle cx="398.5" cy="297.3" r="3"/><circle cx="395.9" cy="297.3" r="3"/><circle cx="396.6" cy="296.0" r="3"/><circle cx="405.5" cy="296.7" r="3"/><circle cx="403.0" cy="295.9" r="3"/><circle cx="404.0" cy="295.7" r="3"/><circle cx="403.1" cy="295.6" r="3"/><circle cx="404.7" cy="295.0" r="3"/><circle cx="404.2" cy="295.9" r="3"/><circle cx="441.5" cy="291.9" r="3"/><circle cx="444.6" cy="292.5" r="3"/><circle cx="441.7" cy="294.3" r="3"/><circle cx="445.5" cy="294.2" r="3"/><circle cx="441.9" cy="291.6" r="3"/><circle cx="441.6" cy="293.5" r="3"/><circle cx="442.8" cy="291.2" r="3"/><circle cx="443.6" cy="294.0" r="3"/><circle cx="445.7" cy="291.6" r="3"/><circle cx="442.2" cy="294.0" r="3"/><circle cx="444.4" cy="293.2" r="3"/><circle cx="441.9" cy="290.9" r="3"/><circle cx="445.0" cy="292.2" r="3"/><circle cx="441.8" cy="294.1" r="3"/><circle cx="440.4" cy="291.6" r="3"/><circle cx="438.8" cy="291.7" r="3"/><circle cx="438.7" cy="291.8" r="3"/><circle cx="439.9" cy="290.7" r="3"/><circle cx="440.2" cy="291.9" r="3"/><circle cx="439.3" cy="290.2" r="3"/><circle cx="236.6" cy="363.6" r="3"/><circle cx="235.6" cy="363.4" r="3"/><circle cx="235.4" cy="363.5" r="3"/><circle cx="236.0" cy="363.7" r="3"/></g>
<path d="M1025.4 84.3 L1034.4 93.1 M1034.4 84.3 L1025.4 93.1" stroke="#a3b0be" stroke-opacity="0.85" stroke-width="2.4" fill="none"/>
</svg>

<!-- dropdown menu -->
<div id="menu">
<svg class="abs" style="left:22px;top:10px" width="14" height="38" viewBox="0 0 14 38">
<circle cx="6.5" cy="6.5" r="5.5" fill="#222"/>
<path d="M3.6 6.4 L5.8 8.6 L9.6 4.6" fill="none" stroke="#fff" stroke-width="1.9"/>
<circle cx="6.5" cy="30.5" r="5" fill="#fff" stroke="#333" stroke-width="1"/>
</svg>
<div class="it" style="top:10px;letter-spacing:-0.3px;">Range</div>
<div class="it" style="top:34px;letter-spacing:0.1px;">Conditions</div>
</div>

<!-- bottom -->
<div id="scroll"></div>
<svg class="abs" style="left:8px;top:476px" width="12" height="16" viewBox="0 0 12 16">
<path d="M5.2 0.9 H7.2 V8.6 H10.9 L6.1 14.8 L1.1 8.6 H5.2 Z" fill="#00735f"/>
</svg>
<div class="date" style="left:27px;">7/23/2019 9:01 AM <u>PDT</u></div>
<div class="date" style="right:15px;">7/24/2019 9:01 AM <u>PDT</u></div>
<svg class="abs" style="left:460px;top:474px" width="170" height="32" viewBox="460 474 170 32">
<g fill="#00735f">
<path d="M466.2 483.7 L473.2 477 V490.4 Z M473.2 483.7 L480.2 477 V490.4 Z"/>
<path d="M495.3 483.7 L502.7 477 V490.4 Z"/>
<path d="M566.4 483.7 L559.2 477 V490.4 Z"/>
<path d="M595.7 483.7 L588.7 477 V490.4 Z M588.7 483.7 L581.7 477 V490.4 Z"/>
<path d="M617.2 483.7 L610.1 477 V490.4 Z M616.8 477 H618.9 V490.4 H616.8 Z"/>
</g>
<path d="M565 497 H575 L570 502.5 Z" fill="#8d8df2"/>
</svg>
<div class="date" style="left:517px;font-size:11.6px;">1 day</div>
<svg class="abs" style="left:830px;top:494px" width="20" height="12" viewBox="830 494 20 12"><path d="M834 497 H844 L839 503 Z" fill="#f6a84c"/></svg>

<!-- mini chart -->
<svg id="mini" class="abs" style="left:28px;top:501px" width="1085" height="38" viewBox="28 501 1085 38">
<rect x="31" y="504" width="539" height="32" fill="#c6c6c6"/>
<rect x="570" y="504" width="269" height="32" fill="#a6a6fa"/>
<rect x="839" y="504" width="270" height="32" fill="#fac486"/>
<g id="minilines" fill="none" stroke-width="1.4" stroke-linejoin="round"><polyline stroke="#5a5ac4" points="31.0,533.1 33.3,533.0 35.7,533.1 38.0,533.4 40.4,534.0 42.7,533.6 44.7,533.9 46.7,533.7 48.8,534.1 50.8,533.8 52.8,533.8 54.8,533.8 56.8,533.9 58.8,534.1 60.9,533.8 62.9,534.1 64.9,533.6 67.0,533.8 69.0,533.8 71.1,533.9 73.1,534.4 75.2,534.5 77.2,534.2 79.2,534.3 81.3,534.5 83.3,534.8 85.4,535.0 87.5,535.0 89.5,535.0 91.6,534.7 93.8,534.8 95.9,534.7 98.0,534.9 100.1,534.9 102.3,534.7 104.4,534.7 106.5,535.1 108.6,534.6 110.8,535.1 112.9,535.2 115.0,535.2 117.1,534.8 119.3,534.9 121.4,535.0 123.8,534.5 126.3,534.2 128.8,533.0 131.2,531.6 133.7,531.0 136.1,530.2 138.6,529.8 141.1,529.4 143.5,528.4 145.6,528.7 147.6,528.5 149.7,528.2 151.7,528.0 153.8,527.8 155.8,527.5 157.9,527.7 160.0,527.3 162.1,527.6 164.3,527.7 166.4,527.5 168.5,527.6 170.6,527.8 173.1,527.5 175.5,526.6 177.9,526.8 180.4,526.4 182.9,525.3 185.3,524.9 187.8,524.1 189.9,523.8 191.9,524.0 193.9,524.1 196.0,523.5 198.1,523.7 200.1,523.4 202.2,522.9 204.3,523.4 206.4,523.1 208.5,523.2 210.6,523.0 212.7,522.9 214.8,522.5 216.9,522.7 219.0,522.7 221.1,522.5 223.3,522.1 225.4,522.2 227.5,521.9 229.6,521.5 232.1,521.3 234.5,521.1 236.9,520.9 239.4,520.7 241.8,520.5 244.3,520.3 246.8,519.8 249.2,519.3 251.2,519.5 253.3,519.2 255.3,519.2 257.4,519.4 259.4,519.1 261.5,518.9 264.0,518.9 266.4,518.3 268.9,517.6 271.4,517.1 273.4,517.0 275.5,516.8 277.5,516.3 279.5,515.9 281.6,515.7 283.6,515.9 285.8,515.5 288.0,515.7 290.1,515.5 292.3,515.5 294.8,516.1 297.2,516.8 299.2,516.1 301.3,515.5 303.3,515.0 305.4,514.5 307.4,514.2 309.8,513.4 312.3,512.9 314.7,512.7 316.8,512.5 318.8,512.5 320.9,511.9 322.9,512.0 324.9,511.9 327.0,511.5 329.5,512.4 331.9,512.1 334.4,512.2 336.9,512.7 338.9,512.3 341.0,512.4 343.0,512.0 345.1,511.6 347.1,511.4 349.2,511.7 351.2,511.1 353.3,511.3 355.4,510.9 357.4,511.0 359.4,510.4 361.5,510.1 363.5,510.0 365.6,510.2 367.6,509.9 369.6,509.5 371.7,509.2 373.7,509.4 376.2,510.1 378.6,510.4 381.1,510.5 383.6,511.0 386.0,511.5 388.5,512.1 390.9,511.2 393.4,510.5 395.9,510.2 398.3,509.6 400.8,508.8 403.2,509.1 405.7,508.5 408.2,508.5 410.6,508.6 413.1,508.6 415.6,510.8 418.0,513.9 421.7,515.3 423.7,514.3 425.8,512.4 427.8,511.4 430.3,510.7 432.7,509.1 435.2,508.2 437.2,507.7 439.3,507.4 441.3,507.1 443.4,507.4 445.4,508.6 447.5,509.5 450.0,510.4 452.4,511.0 454.9,512.1 457.3,511.2 459.8,510.7 462.2,510.1 464.7,510.0 467.2,509.6 469.6,509.3 472.1,509.1 474.5,508.0 477.0,506.4 479.4,505.0 481.9,505.8 484.3,506.8 486.8,507.6 489.3,509.1 491.7,509.8 494.2,511.3 496.7,510.5 499.1,509.4 501.6,508.0 504.1,508.8 506.5,509.9 509.0,510.4 511.4,511.1 513.9,511.6 516.3,511.8 518.8,511.9 521.2,511.6 523.7,511.2 526.2,510.9 528.6,510.3 531.1,510.2 533.1,509.8 535.2,508.4 537.2,507.8 539.3,508.2 541.3,508.8 543.4,509.9 545.8,509.1 548.3,508.5 550.7,508.1 553.2,508.6 555.6,508.7 558.1,508.5 560.6,508.1 563.0,508.1 565.5,507.1 568.0,507.1 570.4,506.7 572.7,508.2 575.1,509.2 577.4,510.5 579.5,510.4 581.5,510.2 583.5,510.3 585.6,510.3 587.7,510.9 589.7,510.5 591.8,510.7 593.8,511.6 595.9,511.3 597.9,512.1 600.0,511.8 602.0,512.3 604.4,511.8 606.9,511.9 609.3,511.4 611.4,510.9 613.4,510.5 615.5,510.1 617.5,510.2 619.6,510.9 621.6,511.3 623.7,511.4 625.7,512.2 627.8,512.4 629.9,511.8 632.1,510.7 634.2,510.3 636.4,509.6 638.5,509.8 640.5,509.4 642.5,509.6 644.6,509.7 646.7,509.5 648.7,509.8 650.8,510.2 652.9,510.2 655.0,510.5 657.1,510.7 659.2,510.7 661.3,511.0 663.4,511.6 665.5,511.5 667.6,511.9 669.7,512.0 671.9,512.5 674.0,512.8 676.1,513.7 678.2,513.9 680.4,514.3 682.6,514.7 684.7,514.8 686.9,515.3 689.1,515.4 691.3,515.6 693.4,516.3 695.6,516.6 697.8,517.0 700.0,517.0 702.2,517.4 704.4,517.4 706.6,518.1 708.7,518.3 710.9,518.2 713.1,518.9 715.3,518.6 717.5,518.8 719.5,519.4 721.6,519.3 723.6,519.6 725.7,519.9 727.8,519.6 729.8,520.3 731.9,520.1 733.9,520.4 736.0,520.5 738.0,520.9 740.1,521.1 742.1,521.0 744.1,520.9 746.2,521.1 748.2,521.3 750.3,521.1 752.4,521.3 754.4,521.8 756.5,521.8 758.5,522.1 760.6,522.2 762.6,522.2 764.7,521.9 766.7,521.9 768.7,522.0 770.8,522.1 772.8,522.2 774.9,522.2 776.9,522.1 779.0,522.4 781.0,522.1 783.0,522.2 785.1,522.5 787.1,522.5 789.2,522.1 791.2,522.1 793.2,522.6 795.3,522.1 797.4,522.2 799.4,522.6 801.5,522.7 803.5,522.5 805.5,522.5 807.6,522.6 809.6,523.1 811.7,522.9 813.8,523.4 815.8,523.3 817.9,523.5 820.1,523.0 822.2,523.2 824.3,523.2 826.4,523.6 828.6,523.6 830.7,523.5 832.8,524.0 834.9,523.8 837.1,524.1 839.2,524.1 841.3,524.4 843.4,524.0 845.6,523.7 847.7,523.4 849.8,523.6 851.9,523.8 854.0,523.9 856.1,524.1 858.1,524.1 860.2,523.8 862.3,523.8 864.4,524.3 866.5,524.4 868.6,524.2 870.6,524.5 872.7,524.4 874.8,524.3 876.9,524.3 878.9,524.2 881.0,524.8 883.0,525.0 885.1,525.1 887.1,524.9 889.2,525.1 891.2,525.4 893.3,525.4 895.4,525.3 897.4,525.3 899.5,525.4 901.5,525.3 903.6,525.3 905.7,525.7 907.8,525.9 909.9,525.6 912.0,525.5 914.1,525.5 916.2,525.6 918.4,525.9 920.5,525.7 922.6,526.0 924.7,525.5 926.8,525.6 928.9,525.8 931.0,525.7 933.1,526.2 935.3,526.3 937.5,526.6 939.6,526.5 941.8,526.2 943.9,526.8 946.1,526.9 948.2,527.0 950.3,526.9 952.4,527.3 954.5,527.5 956.6,527.0 958.7,527.5 960.8,527.3 963.0,527.5 965.1,527.8 967.2,528.0 969.3,527.8 971.4,527.6 973.5,528.2 975.6,527.7 977.7,527.9 979.8,528.3 981.9,527.9 984.0,527.9 986.1,528.5 988.2,528.5 990.3,528.1 992.5,528.2 994.6,528.1 996.7,528.1 998.8,528.2 1000.9,528.7 1003.0,528.1 1005.1,528.3 1007.2,528.3 1009.3,528.3 1011.4,528.6 1013.5,528.8 1015.6,528.9 1017.7,528.8 1019.8,529.0 1022.0,528.5 1024.1,528.7 1026.2,529.3 1028.3,528.7 1030.4,528.9 1032.5,529.1 1034.6,529.0 1036.7,529.2 1038.7,528.9 1040.8,529.1 1042.8,529.6 1044.9,529.1 1046.9,529.6 1049.0,529.1 1051.0,529.7 1053.0,529.5 1055.1,529.5 1057.1,529.2 1059.2,529.2 1061.2,529.7 1063.2,529.3 1065.3,529.4 1067.3,529.9 1069.4,529.9 1071.5,529.4 1073.5,530.1 1075.5,529.8 1077.6,529.8 1079.7,529.6 1081.7,529.8 1083.8,530.3 1085.8,529.8 1087.9,529.9 1089.9,530.0 1092.0,530.1 1094.0,530.4 1096.1,530.9 1098.1,530.5 1100.2,530.7 1102.2,531.3 1104.3,531.5 1106.3,531.6 1108.4,531.4"/><polyline stroke="#2f9a52" points="31.0,531.5 33.2,531.6 35.3,531.4 37.5,531.5 39.6,531.4 41.8,530.9 44.0,530.8 46.1,531.2 48.3,530.7 50.4,530.6 52.6,531.0 54.8,530.7 56.9,531.1 59.0,530.9 61.2,531.0 63.3,530.8 65.5,531.2 67.7,531.4 69.8,531.2 72.0,531.2 74.2,530.9 76.4,530.3 78.6,530.6 80.7,530.3 82.9,529.9 85.1,529.5 87.3,529.9 89.5,529.5 91.7,529.5 93.9,529.5 96.0,529.3 98.2,529.4 100.4,528.9 102.6,529.0 104.7,528.7 106.9,528.9 109.1,528.8 111.3,528.0 113.5,527.8 115.8,527.7 118.0,528.0 120.2,527.5 122.2,526.8 124.3,525.7 126.3,525.0 128.8,524.0 131.2,523.0 133.7,522.2 136.1,522.1 138.6,522.2 141.1,522.0 143.5,522.1 146.0,522.1 148.4,522.3 150.9,522.2 153.4,522.2 155.8,523.0 158.3,523.4 160.3,523.2 162.4,522.8 164.4,522.7 166.5,522.7 168.5,523.5 170.6,523.7 173.1,523.0 175.5,522.4 178.0,522.5 180.0,521.9 182.1,520.5 184.1,520.3 186.6,520.5 189.0,520.7 191.5,521.3 193.7,521.2 195.8,520.9 197.9,520.0 200.1,520.0 202.2,519.6 204.4,520.2 206.5,519.9 208.7,520.4 211.1,519.7 213.6,518.6 215.6,519.3 217.7,519.1 219.7,519.3 222.2,519.4 224.6,518.8 227.1,518.6 229.6,518.5 232.0,518.5 234.5,518.1 236.9,517.9 239.4,517.9 241.8,516.9 244.3,516.7 246.8,516.4 249.2,515.8 251.7,515.7 253.8,515.8 256.0,516.1 258.1,516.1 260.3,516.2 262.8,515.8 265.2,515.5 267.7,514.7 269.9,514.3 272.0,514.1 274.1,513.4 276.3,513.1 278.4,513.2 280.6,512.6 282.8,512.3 284.9,511.7 287.4,512.2 289.8,512.5 292.3,512.4 296.0,514.3 298.4,513.3 300.9,512.0 303.4,512.0 306.0,511.6 308.1,511.1 310.2,510.3 312.3,509.9 314.4,510.1 316.4,509.8 318.5,510.0 320.5,510.6 322.6,511.0 324.6,510.6 327.1,510.1 329.5,509.5 332.0,508.7 334.4,509.2 336.9,509.7 339.3,510.2 341.8,510.0 344.2,509.4 346.7,509.1 349.2,509.0 351.6,508.2 354.1,508.3 356.6,508.2 359.0,507.7 361.1,507.6 363.1,508.0 365.1,507.6 367.2,507.6 369.2,507.8 371.3,507.9 373.8,508.4 376.2,509.3 378.7,510.2 381.1,509.5 383.6,508.3 386.0,511.0 388.5,509.8 390.9,509.2 393.4,508.7 395.9,508.1 398.3,507.6 400.8,507.4 403.2,507.2 405.7,507.3 408.0,506.9 410.3,507.2 412.6,507.0 414.7,509.5 416.8,512.5 420.5,515.9 422.9,514.3 425.4,512.9 427.4,510.6 429.5,508.4 431.5,506.5 433.9,507.2 436.4,507.1 440.1,505.8 442.6,507.0 445.0,508.2 447.5,509.6 449.9,511.3 452.4,512.1 454.9,511.5 457.3,511.6 459.8,511.1 462.3,511.4 464.7,511.2 467.2,511.8 469.6,512.4 472.1,512.5 474.1,510.3 476.2,507.7 478.2,505.0 480.6,506.6 483.1,508.2 485.6,510.3 488.0,512.4 490.5,514.4 492.6,513.5 494.6,512.0 496.7,511.0 499.1,509.5 501.6,509.1 504.1,510.4 506.5,512.0 509.0,513.5 511.4,514.3 513.9,514.9 516.3,515.4 518.8,516.9 521.2,517.6 523.7,518.8 527.4,517.3 529.8,520.1 531.9,519.1 533.9,518.5 536.0,517.3 538.0,518.7 540.1,520.3 542.1,522.4 544.5,520.8 547.0,519.8 550.7,522.5 552.8,521.1 554.8,520.0 556.9,518.8 559.4,517.9 561.8,517.9 564.3,517.5 566.3,516.4 568.4,515.4 570.4,513.9 572.6,515.4 574.9,516.7 577.4,515.5 579.8,515.1 582.3,514.5 584.3,514.7 586.4,514.6 588.5,514.7 590.5,514.9 592.5,514.4 594.6,514.4 597.0,515.2 599.5,515.9 602.0,515.5 604.4,515.8 606.8,515.3 609.3,514.4 611.8,514.2 614.2,513.6 616.3,514.6 618.3,515.6 620.4,516.8 624.1,515.8 627.0,518.5 629.3,517.4 631.6,516.5 633.9,515.4 636.4,515.9 638.8,516.2 641.2,516.1 643.7,516.1 645.8,516.3 647.8,516.6 649.9,516.9 651.9,517.1 654.0,517.0 656.0,517.4 658.0,517.7 660.1,518.0 662.1,518.3 664.2,518.8 666.2,519.3 668.3,519.5 670.8,520.5 673.2,521.0 675.7,521.6 678.2,521.7 680.6,521.7 683.1,522.0 685.5,523.0 688.0,523.7 690.5,524.6 692.9,525.2 695.3,525.4 697.8,526.3 700.0,526.3 702.2,526.0 704.4,526.2 706.6,526.1 708.7,526.7 710.9,526.6 713.1,526.9 715.3,526.9 717.5,526.9 719.7,526.9 721.9,526.7 724.1,526.4 726.3,526.6 728.4,526.2 730.6,526.2 732.8,526.6 735.0,526.0 737.2,526.0 739.3,525.9 741.4,526.4 743.5,525.9 745.6,525.7 747.7,526.2 749.8,525.6 751.9,526.0 754.0,525.8 756.0,525.8 758.0,525.7 760.1,525.3 762.2,525.3 764.2,524.7 766.7,525.6 769.1,525.8 771.5,526.3 774.0,526.2 776.1,526.7 778.3,526.8 780.5,526.2 782.6,526.4 784.8,526.5 786.9,526.7 789.1,526.3 791.2,526.3 793.3,526.5 795.4,526.9 797.5,527.1 799.7,527.0 801.8,527.1 803.9,527.3 806.0,527.4 808.2,527.4 810.4,527.1 812.6,527.3 814.8,527.5 816.9,527.1 819.1,527.2 821.3,526.7 823.5,527.0 825.7,527.0 827.7,527.1 829.8,527.1 831.8,527.2 833.8,527.5 835.9,527.8 837.9,527.5 840.3,527.2 842.7,527.5 845.0,527.5 847.4,527.0 849.8,526.8 851.8,526.9 853.8,526.5 855.9,526.6 857.9,526.5 859.9,526.7 861.9,526.5 863.9,526.4 865.9,526.7 868.0,526.9 870.0,526.4 872.0,526.6 874.1,526.5 876.2,526.9 878.3,526.7 880.4,526.6 882.5,526.6 884.6,526.5 886.8,526.9 888.9,526.9 891.0,526.8 893.1,527.0 895.2,527.0 897.3,527.4 899.4,527.0 901.5,527.6 903.7,527.3 905.9,527.3 908.0,527.2 910.2,527.4 912.4,527.4 914.6,527.1 916.7,527.1 918.9,527.2 921.1,527.2 923.5,527.7 926.0,528.7 928.0,528.9 930.1,528.6 932.1,528.6 934.2,528.6 936.2,529.1 938.3,529.1 940.8,529.6 943.2,529.7 945.7,529.6 948.2,529.8 950.3,529.9 952.4,530.0 954.5,530.4 956.6,530.7 958.7,530.8 960.8,530.4 962.9,531.0 965.4,531.1 967.8,531.6 970.2,532.4 972.7,532.4 974.9,532.5 977.1,533.1 979.3,532.8 981.5,532.9 983.6,533.1 985.8,533.3 988.0,532.9 990.2,533.2 992.4,533.4 994.4,533.4 996.5,533.3 998.5,533.6 1000.6,533.9 1002.6,533.5 1004.7,533.7 1006.8,533.4 1008.8,533.6 1010.9,533.9 1012.9,533.5 1015.0,534.1 1017.0,534.2 1019.2,533.6 1021.4,534.2 1023.6,533.8 1025.8,534.1 1027.9,534.1 1030.1,533.8 1032.3,534.0 1034.5,534.0 1036.7,534.1 1038.9,533.7 1041.1,534.1 1043.2,534.2 1045.4,534.0 1047.6,533.9 1049.8,533.6 1051.9,533.9 1054.1,533.8 1056.3,534.1 1058.5,534.1 1060.7,534.2 1062.9,534.0 1065.1,534.4 1067.2,534.5 1069.4,534.3 1071.6,535.0 1073.8,534.9 1076.0,534.6 1078.5,534.9 1080.9,534.0 1083.3,533.8 1085.8,533.8 1087.9,533.7 1089.9,533.6 1092.0,533.6 1094.0,533.5 1096.1,533.4 1098.1,533.3 1100.2,533.2 1102.2,533.6 1104.3,533.6 1106.3,533.4 1108.4,533.4"/></g>
<rect x="31" y="504" width="1078.500" height="32" rx="2" fill="none" stroke="#69999a" stroke-width="1.7"/>
</svg>
</body>
</html>
